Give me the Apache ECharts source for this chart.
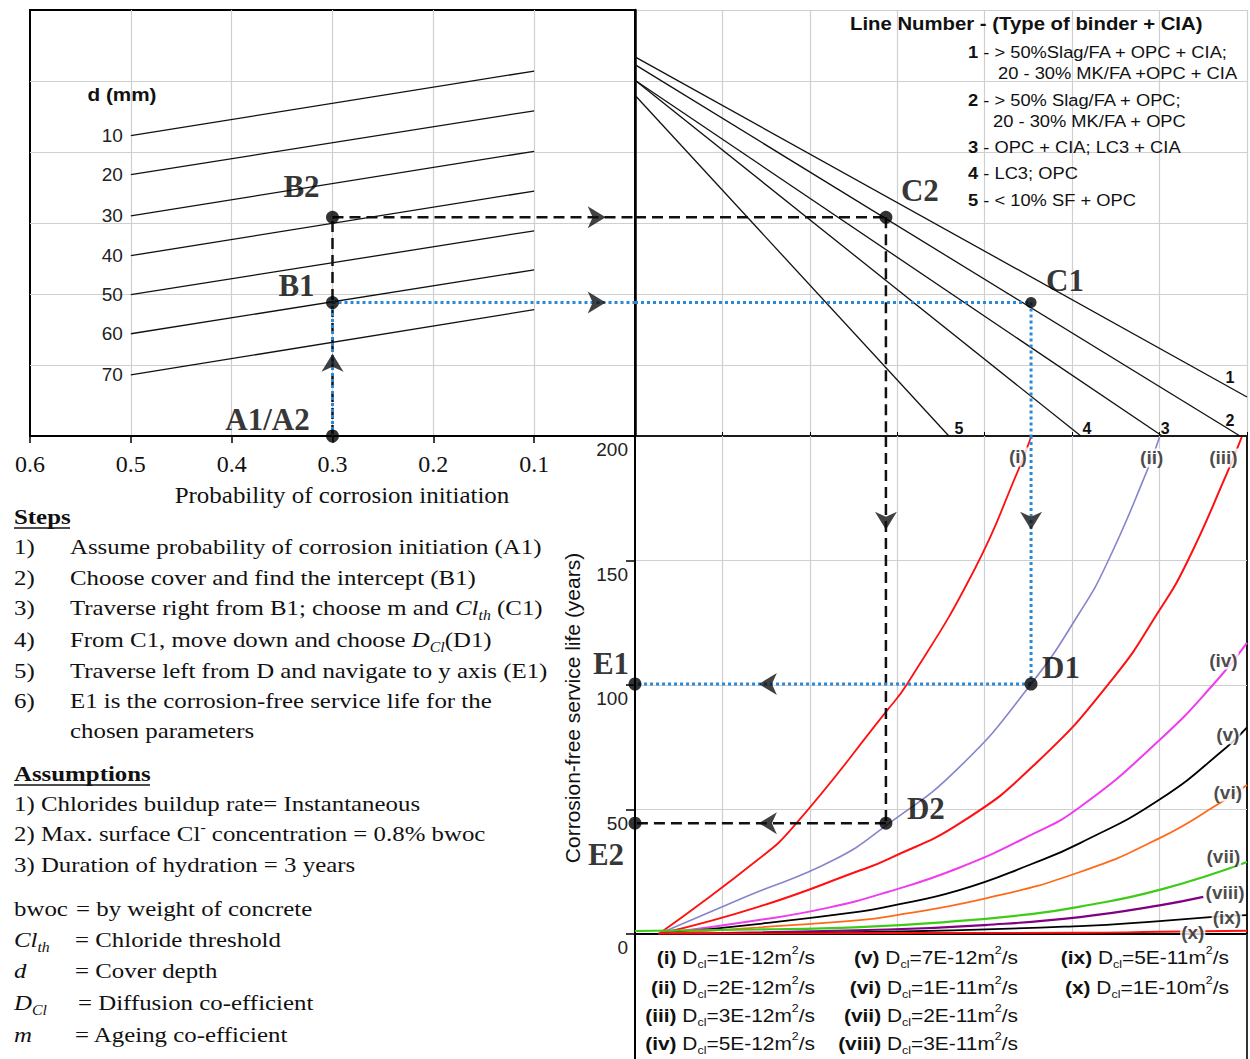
<!DOCTYPE html>
<html>
<head>
<meta charset="utf-8">
<title>Corrosion-free service life nomogram</title>
<script src="https://cdn.jsdelivr.net/npm/echarts@6.0.0/dist/echarts.min.js"></script>
<style>
html,body{margin:0;padding:0;background:#fff;}
#chart{width:1250px;height:1059px;}
</style>
</head>
<body>
<div id="chart"></div>
<script>
// ================= DATA =================
const probTicks = [0.6, 0.5, 0.4, 0.3, 0.2, 0.1];
const coverDepths = [10, 20, 30, 40, 50, 60, 70];
const coverProbRange = [0.5, 0.1];
const coverLevelAt05 = [4.23, 3.68, 3.10, 2.54, 1.99, 1.44, 0.86];
const coverLevelAt01 = [5.14, 4.58, 4.01, 3.45, 2.89, 2.34, 1.78];

const binderLines = [1, 2, 3, 4, 5];
const binderStartLevel = [5.34, 5.23, 5.01, 5.01, 4.80];
const binderEndX = [7.0, 6.92, 6.03, 5.10, 3.59];
const binderEndLevel = [0.55, 0, 0, 0, 0];
const binderLegend = [
  ['1', '> 50%Slag/FA + OPC + CIA;', '20 - 30% MK/FA +OPC + CIA'],
  ['2', '> 50% Slag/FA + OPC;', '20 - 30% MK/FA + OPC'],
  ['3', 'OPC + CIA; LC3 + CIA'],
  ['4', 'LC3; OPC'],
  ['5', '< 10% SF + OPC']
];

const lifeTicks = [0, 50, 100, 150, 200];
const dclNames = ['(i)', '(ii)', '(iii)', '(iv)', '(v)', '(vi)', '(vii)', '(viii)', '(ix)', '(x)'];
const dclValues = ['1E-12', '2E-12', '3E-12', '5E-12', '7E-12', '1E-11', '2E-11', '3E-11', '5E-11', '1E-10'];

const curve_i    = [[0.27,0],[1.40,29.7],[1.81,43.0],[2.87,89.2],[3.12,100.8],[3.88,146.2],[4.38,186.0],[4.53,199.6]];
const curve_ii   = [[0.27,0],[1.26,14.9],[2.26,29.5],[2.89,44.0],[3.71,67.0],[4.53,100.4],[5.09,129.3],[5.40,149.0],[5.86,186.3],[6.00,199.6]];
const curve_iii  = [[0.27,0],[1.42,11.0],[2.57,25.5],[2.89,30.0],[3.74,45.0],[4.59,68.7],[5.47,102.8],[6.00,130.1],[6.31,149.0],[6.77,185.0],[6.94,199.6]];
const curve_iv   = [[0.27,0],[1.40,5.5],[2.20,10.5],[2.89,16.9],[3.70,26.5],[4.53,39.8],[5.09,51.0],[6.00,77.9],[6.66,102.0],[7.00,116.9]];
const curve_v    = [[0.27,0],[1.40,4.0],[2.57,9.0],[2.89,11.0],[3.70,17.5],[4.53,28.0],[5.09,36.5],[6.00,54.0],[6.77,75.1],[7.00,83.0]];
const curve_vi   = [[0.27,0],[1.40,2.6],[2.57,5.6],[2.89,7.0],[4.00,14.2],[5.09,24.9],[6.00,38.5],[6.69,52.6],[7.00,59.8]];
const curve_vii  = [[0.00,1.2],[1.40,1.8],[2.57,2.8],[3.55,4.8],[4.53,8.0],[5.09,11.0],[6.00,17.7],[7.00,28.9]];
const curve_viii = [[0.27,0],[2.89,1.8],[4.00,3.6],[5.09,6.8],[6.00,11.5],[6.50,14.9]];
const curve_ix   = [[0.27,0],[2.89,0.9],[5.09,3.2],[6.00,5.2],[6.58,6.8],[7.00,7.6]];
const curve_x    = [[0.27,0.2],[3.00,0.4],[5.09,0.5],[6.00,0.9],[7.00,1.3]];

// worked examples: index 0 = route 1 (blue), index 1 = route 2 (black)
const probChosen = 0.3;
const bLevel = [1.88, 3.08];
const cX = [4.53, 2.87];
const lifeE = [100.4, 44.5];
const arrowProb = 0.038;
const arrowUpLevel = 1.03;
const arrowDownLife = 166;
const arrowLeftX = 1.52;

// ================= STYLE / LAYOUT =================
const SERIF = "'Liberation Serif','Times New Roman',Times,serif";
const SANS = "'Liberation Sans',Arial,Helvetica,sans-serif";
const GRID_GRAY = '#cfcfcf';
const INK = '#111';

const chart = echarts.init(document.getElementById('chart'), null, {renderer: 'svg', width: 1250, height: 1059});

const series = [];

// cover-depth lines (top-left)
coverDepths.forEach((d, i) => {
  series.push({
    type: 'line', xAxisIndex: 0, yAxisIndex: 0, silent: true, clip: false,
    symbol: 'circle', symbolSize: 0, showSymbol: true, z: 3,
    lineStyle: {color: INK, width: 1.3}, itemStyle: {color: INK},
    data: [
      {value: [coverProbRange[0], coverLevelAt05[i]],
       label: {show: true, position: 'left', distance: 8, formatter: String(d), fontFamily: SANS, fontSize: 19, color: '#222'}},
      [coverProbRange[1], coverLevelAt01[i]]
    ]
  });
});

// binder lines (top-right)
const binderLabelOffset = [[-17, -19], [-10, -16], [3, -8], [6, -8], [10, -8]];
binderLines.forEach((n, i) => {
  series.push({
    type: 'line', xAxisIndex: 1, yAxisIndex: 1, silent: true, clip: false,
    symbol: 'circle', symbolSize: 0, showSymbol: true, z: 3,
    lineStyle: {color: INK, width: 1.3}, itemStyle: {color: INK},
    data: [
      [0, binderStartLevel[i]],
      {value: [binderEndX[i], binderEndLevel[i]],
       label: {show: true, position: 'inside', offset: binderLabelOffset[i], formatter: String(n), fontFamily: SANS, fontWeight: 'bold', fontSize: 16, color: INK, textBorderWidth: 0}}
    ]
  });
});

// diffusion curves (bottom)
const curves = [curve_i, curve_ii, curve_iii, curve_iv, curve_v, curve_vi, curve_vii, curve_viii, curve_ix, curve_x];
const curveColors = ['#ff1010', '#8585cc', '#ff1010', '#ee3cee', '#000000', '#ff6a1a', '#3ccc18', '#800080', '#000000', '#ff1010'];
const curveWidths = [1.8, 1.6, 2.0, 2.0, 1.8, 1.8, 2.2, 2.2, 1.8, 1.8];
curves.forEach((c, i) => {
  series.push({
    type: 'line', xAxisIndex: 2, yAxisIndex: 2, silent: true, clip: true,
    smooth: 0.5, showSymbol: false, symbol: 'none', z: 3,
    lineStyle: {color: curveColors[i], width: curveWidths[i]},
    data: c
  });
});

// curve name labels
const curveLabelAt = [[4.38,191.6],[5.91,191.2],[6.73,191.2],[6.73,110],[6.78,80],[6.78,57],[6.73,31],[6.75,16.5],[6.77,6.8],[6.38,0.8]];
series.push({
  type: 'scatter', xAxisIndex: 2, yAxisIndex: 2, silent: true, clip: false, symbolSize: 0, z: 6,
  data: curveLabelAt.map((p, i) => ({value: p, name: dclNames[i]})),
  label: {show: true, position: 'inside', formatter: '{b}', fontFamily: SANS, fontWeight: 'bold', fontSize: 19,
          color: '#1a1a1a', textBorderWidth: 0, backgroundColor: '#fff', padding: [0, 1]}
});

// worked-example routes
const routeStyle = [
  {color: '#2a8ad8', width: 3, type: [3, 3]},
  {color: INK, width: 2.5, type: [11, 6]}
];
[1, 0].forEach(k => {
  const ls = routeStyle[k];
  const seg = (ai, pts) => series.push({
    type: 'line', xAxisIndex: ai, yAxisIndex: ai, silent: true, clip: false,
    showSymbol: false, symbol: 'none', lineStyle: ls, data: pts, z: 5
  });
  seg(0, [[probChosen, 0], [probChosen, bLevel[k]]]);
  seg(0, [[probChosen, bLevel[k]], [0, bLevel[k]]]);
  seg(1, [[0, bLevel[k]], [cX[k], bLevel[k]]]);
  seg(1, [[cX[k], bLevel[k]], [cX[k], 0]]);
  seg(2, [[cX[k], 200], [cX[k], lifeE[k]]]);
  seg(2, [[cX[k], lifeE[k]], [0, lifeE[k]]]);
});

// arrowheads
const ARROW = {
  right: 'path://M0,0 L18,11 L0,22 L5,11 Z',
  left: 'path://M18,0 L0,11 L18,22 L13,11 Z',
  up: 'path://M0,18 L11,0 L22,18 L11,13 Z',
  down: 'path://M0,0 L11,18 L22,0 L11,5 Z'
};
const arrowSeries = (ai, sym, size, pts) => series.push({
  type: 'scatter', xAxisIndex: ai, yAxisIndex: ai, silent: true, clip: false, z: 7,
  symbol: sym, symbolSize: size, itemStyle: {color: INK}, data: pts
});
arrowSeries(0, ARROW.right, [18, 22], [[arrowProb, bLevel[0]], [arrowProb, bLevel[1]]]);
arrowSeries(0, ARROW.up, [22, 18], [[probChosen, arrowUpLevel]]);
arrowSeries(2, ARROW.down, [22, 18], [[cX[0], arrowDownLife], [cX[1], arrowDownLife]]);
arrowSeries(2, ARROW.left, [18, 22], [[arrowLeftX, lifeE[0]], [arrowLeftX, lifeE[1]]]);

// points with letters
const dotLabel = (name, off) => ({show: true, position: 'inside', offset: off, formatter: name,
  fontFamily: SERIF, fontWeight: 'bold', fontSize: 31, color: '#000', textBorderWidth: 0});
const dotSeries = (ai, items) => series.push({
  type: 'scatter', xAxisIndex: ai, yAxisIndex: ai, silent: true, clip: false, z: 8,
  symbolSize: 13, itemStyle: {color: '#000'}, data: items
});
dotSeries(0, [
  {value: [probChosen, 0], label: dotLabel('A1/A2', [-65, -17])},
  {value: [probChosen, bLevel[0]], label: dotLabel('B1', [-36, -17])},
  {value: [probChosen, bLevel[1]], label: dotLabel('B2', [-31, -31])}
]);
dotSeries(1, [
  {value: [cX[0], bLevel[0]], symbolSize: 11, label: dotLabel('C1', [34, -22])},
  {value: [cX[1], bLevel[1]], label: dotLabel('C2', [34, -27])}
]);
dotSeries(2, [
  {value: [cX[0], lifeE[0]], label: dotLabel('D1', [30, -17])},
  {value: [cX[1], lifeE[1]], label: dotLabel('D2', [40, -15])},
  {value: [0, lifeE[0]], label: dotLabel('E1', [-24, -21])},
  {value: [0, lifeE[1]], label: dotLabel('E2', [-29, 31])}
]);

// ================= TEXT (graphic) =================
function T(x, y, text, o) {
  o = o || {};
  const st = {
    text: text, x: 0, y: 0,
    fontFamily: o.ff || SERIF, fontSize: o.fs || 22, fontWeight: o.fw || 'normal',
    fontStyle: o.it ? 'italic' : 'normal',
    fill: o.fill || INK, align: o.align || 'left', verticalAlign: 'middle'
  };
  if (o.rich) st.rich = o.rich;
  return {type: 'text', x: x, y: y, scaleX: o.sx || 1, scaleY: 1, rotation: o.rot || 0, silent: true, z: 20, style: st};
}
function L(x1, y1, x2, y2, color, w) {
  return {type: 'line', silent: true, z: 19, shape: {x1, y1, x2, y2}, style: {stroke: color || '#000', lineWidth: w || 2}};
}
function richSet(ff, fs, fill) {
  const s = Math.round(fs * 0.62);
  return {
    n:   {fontFamily: ff, fontSize: fs, lineHeight: fs + 6, fill: fill},
    b:   {fontFamily: ff, fontSize: fs, fontWeight: 'bold', lineHeight: fs + 6, fill: fill},
    it:  {fontFamily: ff, fontSize: fs, fontStyle: 'italic', lineHeight: fs + 6, fill: fill},
    its: {fontFamily: ff, fontSize: s, fontStyle: 'italic', lineHeight: s + 2, verticalAlign: 'bottom', fill: fill},
    sub: {fontFamily: ff, fontSize: s, lineHeight: s + 2, verticalAlign: 'bottom', fill: fill},
    sup: {fontFamily: ff, fontSize: s, lineHeight: s + 2, verticalAlign: 'top', fill: fill}
  };
}
const SFS = 22, SSX = 1.13;
const serifRich = richSet(SERIF, SFS, INK);
const S = (x, y, t, extra) => T(x, y, t, Object.assign({fs: SFS, sx: SSX}, extra || {}));
const SR = (x, y, t) => T(x, y, t, {fs: SFS, sx: SSX, rich: serifRich});

const stepTexts = [
  ['1)', '{n|Assume probability of corrosion initiation (A1)}'],
  ['2)', '{n|Choose cover and find the intercept (B1)}'],
  ['3)', '{n|Traverse right from B1; choose m and }{it|Cl}{its|th}{n| (C1)}'],
  ['4)', '{n|From C1, move down and choose }{it|D}{its|Cl}{n|(D1)}'],
  ['5)', '{n|Traverse left from D and navigate to y axis (E1)}'],
  ['6)', '{n|E1 is the corrosion-free service life for the}']
];
const stepY = [547, 578, 608, 640, 671, 701];

const elements = [];
elements.push(S(14, 517, 'Steps', {fw: 'bold'}));
elements.push(L(14, 528, 70, 528, INK, 1.5));
stepTexts.forEach((s, i) => {
  elements.push(S(14, stepY[i], s[0]));
  elements.push(SR(70, stepY[i], s[1]));
});
elements.push(S(70, 731, 'chosen parameters'));

elements.push(S(14, 774, 'Assumptions', {fw: 'bold'}));
elements.push(L(14, 785, 150, 785, INK, 1.5));
elements.push(S(14, 804, '1) Chlorides buildup rate= Instantaneous'));
elements.push(SR(14, 834, '{n|2) Max. surface Cl}{sup|-}{n| concentration = 0.8% bwoc}'));
elements.push(S(14, 865, '3) Duration of hydration = 3 years'));

elements.push(S(14, 909, 'bwoc'));
elements.push(S(76, 909, '= by weight of concrete'));
elements.push(SR(14, 940, '{it|Cl}{its|th}'));
elements.push(S(75, 940, '= Chloride threshold'));
elements.push(S(14, 971, 'd', {it: true}));
elements.push(S(75, 971, '= Cover depth'));
elements.push(SR(14, 1003, '{it|D}{its|Cl}'));
elements.push(S(78, 1003, '= Diffusion co-efficient'));
elements.push(S(14, 1035, 'm', {it: true}));
elements.push(S(75, 1035, '= Ageing co-efficient'));

// axis titles
elements.push(T(342, 495, 'Probability of corrosion initiation', {fs: 24, sx: 1.04, align: 'center'}));
elements.push(T(572, 708, 'Corrosion-free service life (years)', {ff: SANS, fs: 21, align: 'center', rot: Math.PI / 2}));
elements.push(T(122, 95, 'd (mm)', {ff: SANS, fs: 18, fw: 'bold', sx: 1.15, align: 'center'}));

// binder legend
elements.push(T(850, 24, 'Line Number - (Type of binder + CIA)', {ff: SANS, fs: 18, fw: 'bold', sx: 1.13}));
const sansRich = richSet(SANS, 16.5, INK);
const legY = [[52, 73], [100, 121], [147], [173], [200]];
const legX2 = [998, 993];
binderLegend.forEach((row, i) => {
  elements.push(T(968, legY[i][0], '{b|' + row[0] + '}{n| - ' + row[1] + '}', {ff: SANS, fs: 16.5, sx: 1.11, rich: sansRich}));
  if (row[2]) elements.push(T(legX2[i], legY[i][1], '{n|' + row[2] + '}', {ff: SANS, fs: 16.5, sx: 1.11, rich: sansRich}));
});

// diffusion coefficient legend
const dclRich = richSet(SANS, 18.5, INK);
const dclColRight = [815, 1018, 1229];
const dclRowY = [957, 987, 1015, 1043];
dclNames.forEach((nm, i) => {
  const col = i < 4 ? 0 : (i < 8 ? 1 : 2);
  const row = i < 4 ? i : (i < 8 ? i - 4 : i - 8);
  elements.push(T(dclColRight[col], dclRowY[row],
    '{b|' + nm + '}{n| D}{sub|cl}{n|=' + dclValues[i] + 'm}{sup|2}{n|/s}',
    {ff: SANS, fs: 18.5, sx: 1.13, align: 'right', rich: dclRich}));
});

// frame of the legend box under the bottom chart
elements.push(L(635, 934, 635, 1059, '#000', 2));
elements.push(L(1247, 934, 1247, 1059, '#333', 2));

// ================= OPTION =================
const option = {
  animation: false,
  backgroundColor: '#fff',
  grid: [
    {left: 30, top: 10, width: 605, height: 426, show: true, borderColor: '#000', borderWidth: 2, backgroundColor: 'transparent', outerBoundsMode: 'none'},
    {left: 635, top: 10, width: 612, height: 426, show: false, outerBoundsMode: 'none'},
    {left: 635, top: 436, width: 612, height: 498, show: true, borderColor: '#1a1a1a', borderWidth: 2, backgroundColor: 'transparent', outerBoundsMode: 'none'}
  ],
  xAxis: [
    {gridIndex: 0, type: 'value', min: 0, max: 0.6, interval: 0.1, inverse: true,
     axisLine: {show: true, lineStyle: {color: '#000', width: 2}},
     axisTick: {show: true, length: 7, lineStyle: {color: '#000', width: 1.5}},
     axisLabel: {margin: 16, fontFamily: SERIF, fontSize: 24, color: INK,
                 formatter: v => (probTicks.some(t => Math.abs(t - v) < 1e-6) ? (+v).toFixed(1) : '')},
     splitLine: {show: true, showMinLine: false, showMaxLine: false, lineStyle: {color: GRID_GRAY, width: 1.2}}},
    {gridIndex: 1, type: 'value', min: 0, max: 7, interval: 1,
     axisLine: {show: false}, axisTick: {show: true, inside: true, length: 4, lineStyle: {color: '#000'}}, axisLabel: {show: false},
     splitLine: {show: true, showMinLine: false, showMaxLine: true, lineStyle: {color: GRID_GRAY, width: 1.2}}},
    {gridIndex: 2, type: 'value', min: 0, max: 7, interval: 1,
     axisLine: {show: true, lineStyle: {color: '#000', width: 2}}, axisTick: {show: false}, axisLabel: {show: false},
     splitLine: {show: true, showMinLine: false, showMaxLine: false, lineStyle: {color: GRID_GRAY, width: 1.2}}}
  ],
  yAxis: [
    {gridIndex: 0, type: 'value', min: 0, max: 6, interval: 1,
     axisLine: {show: true, lineStyle: {color: '#000', width: 2}}, axisTick: {show: false}, axisLabel: {show: false},
     splitLine: {show: true, showMinLine: false, showMaxLine: false, lineStyle: {color: GRID_GRAY, width: 1.2}}},
    {gridIndex: 1, type: 'value', min: 0, max: 6, interval: 1,
     axisLine: {show: true, lineStyle: {color: '#000', width: 2.5}}, axisTick: {show: false}, axisLabel: {show: false},
     splitLine: {show: true, showMinLine: false, showMaxLine: true, lineStyle: {color: GRID_GRAY, width: 1.2}}},
    {gridIndex: 2, type: 'value', min: 0, max: 200, interval: 50,
     axisLine: {show: true, lineStyle: {color: '#000', width: 2}},
     axisTick: {show: true, length: 9, lineStyle: {color: '#000', width: 1.5}},
     axisLabel: {margin: 7, fontFamily: SANS, fontSize: 19, color: '#222', verticalAlign: 'top', padding: [4, 0, 0, 0],
                 formatter: v => (lifeTicks.indexOf(v) >= 0 ? String(v) : '')},
     splitLine: {show: true, showMinLine: false, showMaxLine: false, lineStyle: {color: GRID_GRAY, width: 1.2}}}
  ],
  series: series,
  graphic: {elements: elements}
};
chart.setOption(option);
</script>
</body>
</html>
